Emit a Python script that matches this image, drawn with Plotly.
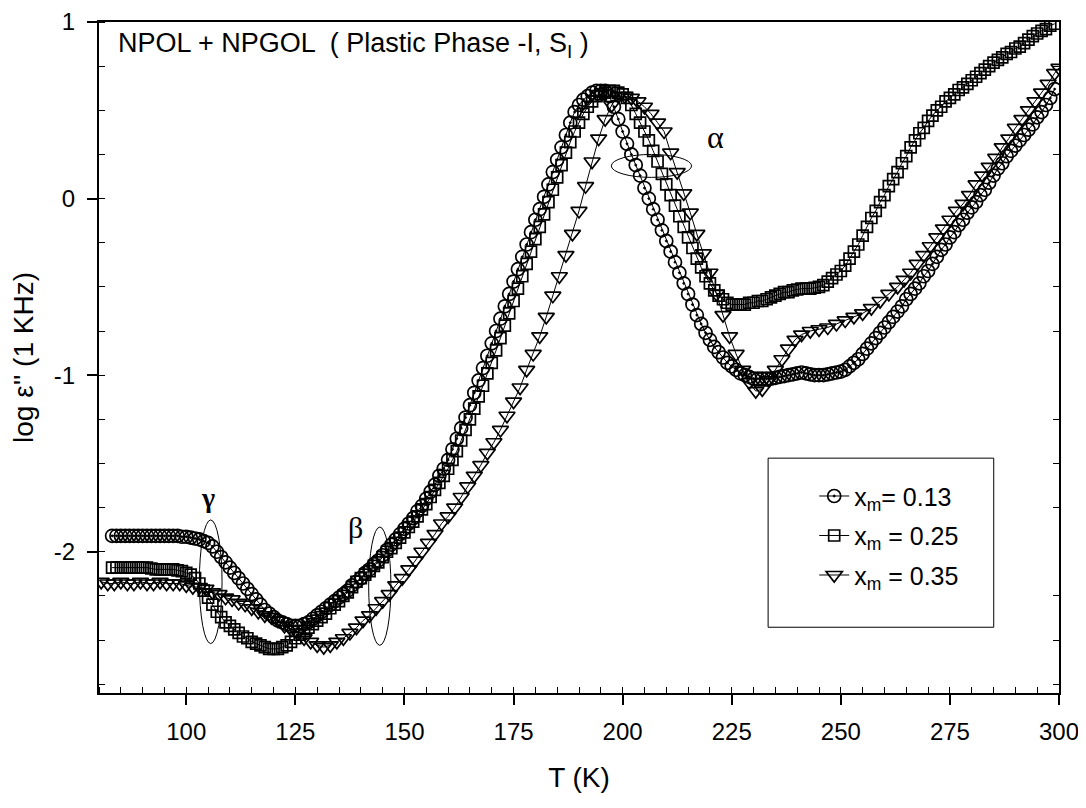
import plotly.graph_objects as go

# ---------------- data ----------------
T_013 = [83, 84, 85, 86, 87, 88, 89, 90, 91, 92, 93, 94, 95, 96, 97, 98, 99, 100, 101, 102, 103,
         104, 105, 106, 107, 108, 109, 110, 111, 112, 113, 114, 115, 116, 117, 118, 119, 120,
         121, 122, 123, 124, 125, 126, 127, 128, 129, 130, 131, 132, 133, 134, 135, 136, 137,
         138, 139, 140, 141, 142, 143, 144, 145, 146, 147, 148, 149, 150, 151, 152, 153, 154,
         155, 156, 157, 158, 159, 160, 161, 162, 163, 164, 165, 166, 167, 168, 169, 170, 171,
         172, 173, 174, 175, 176, 177, 178, 179, 180, 181, 182, 183, 184, 185, 186, 187, 188,
         189, 190, 191, 192, 193, 194, 195, 196, 197, 198, 199, 200, 201, 202, 203, 204, 205,
         206, 207, 208, 209, 210, 211, 212, 213, 214, 215, 216, 217, 218, 219, 220, 221, 222,
         223, 224, 225, 226, 227, 228, 229, 230,
         231, 232, 233, 234, 235, 236, 237, 238, 239, 240, 241, 242, 243, 244, 245, 246, 247, 248, 249, 250,
         251, 252, 253, 254, 255, 256, 257, 258, 259, 260, 261, 262, 263, 264, 265, 266, 267,
         268, 269, 270, 271, 272, 273, 274, 275, 276, 277, 278, 279, 280, 281, 282, 283, 284,
         285, 286, 287, 288, 289, 290, 291, 292, 293, 294, 295, 296, 297, 298, 299]
Y_013 = [-1.91, -1.91, -1.91, -1.91, -1.91, -1.91, -1.91, -1.91, -1.91, -1.91, -1.91, -1.91, -1.91, -1.91, -1.91,
         -1.91, -1.915, -1.915, -1.92, -1.925, -1.93,
         -1.94, -1.95, -1.97, -2.00, -2.03, -2.06, -2.09, -2.12, -2.15, -2.18, -2.21, -2.24, -2.27, -2.30, -2.33, -2.35, -2.37,
         -2.39, -2.40, -2.41, -2.42, -2.42, -2.42, -2.41, -2.40, -2.38, -2.36, -2.34, -2.32, -2.30, -2.28, -2.26, -2.24, -2.22,
         -2.19, -2.17, -2.15, -2.12, -2.10, -2.07, -2.05, -2.02, -1.99, -1.96, -1.93, -1.90, -1.87, -1.84, -1.81, -1.77, -1.74,
         -1.70, -1.66, -1.62, -1.57, -1.53, -1.48, -1.42, -1.36, -1.30, -1.24, -1.17, -1.10, -1.03, -0.96, -0.89, -0.82, -0.75,
         -0.68, -0.61, -0.54, -0.47, -0.40, -0.33, -0.26, -0.19, -0.12, -0.06, 0.01, 0.08, 0.15, 0.22, 0.29, 0.36, 0.43,
         0.49, 0.53, 0.56, 0.58, 0.60, 0.61, 0.61, 0.61, 0.58, 0.52, 0.45, 0.38, 0.31, 0.25, 0.19, 0.13, 0.06,
         0.00, -0.06, -0.12, -0.18, -0.24, -0.30, -0.36, -0.42, -0.48, -0.54, -0.60, -0.66, -0.71, -0.76, -0.80, -0.84, -0.87,
         -0.90, -0.93, -0.95, -0.97, -0.99, -1.00, -1.01, -1.02,
         -1.02, -1.02, -1.02, -1.02, -1.015, -1.01, -1.005, -1.00, -0.995, -0.99, -0.985, -0.99, -0.995, -1.00, -1.00, -1.00,
         -0.995, -0.99, -0.985, -0.98,
         -0.97, -0.95, -0.93, -0.91, -0.88, -0.85, -0.82, -0.79, -0.76, -0.73, -0.70, -0.67, -0.64, -0.61, -0.57, -0.54, -0.51,
         -0.48, -0.44, -0.41, -0.37, -0.33, -0.29, -0.26, -0.22, -0.19, -0.15, -0.12, -0.08, -0.05, -0.02, 0.02, 0.05, 0.09,
         0.13, 0.17, 0.20, 0.24, 0.27, 0.30, 0.33, 0.36, 0.39, 0.42, 0.46, 0.49, 0.53, 0.57, 0.62]

T_025 = [83, 84, 85, 86, 87, 88, 89, 90, 91, 92, 93, 94, 95, 96, 97, 98, 99, 100, 101,
         102, 103, 104, 105, 106, 107, 108, 109, 110, 111, 112, 113, 114, 115, 116, 117, 118,
         119, 120, 121, 122, 123, 124, 125, 126, 127, 128, 129, 130, 131, 132, 133, 134, 135,
         136, 137, 138, 139, 140, 141, 142, 143, 144, 145, 146, 147, 148, 149, 150, 151, 152,
         153, 154, 155, 156, 157, 158, 159, 160, 161, 162, 163, 164, 165, 166, 167, 168, 169,
         170, 171, 172, 173, 174, 175, 176, 177, 178, 179, 180, 181, 182, 183, 184, 185, 186,
         187, 188, 189, 190, 191, 192, 193, 194, 195, 196, 197, 198, 199, 200, 201, 202, 203,
         204, 205, 206, 207, 208, 209, 210, 211, 212, 213, 214, 215, 216, 217, 218, 219, 220,
         221, 222, 223, 224, 225,
         226, 227, 228, 229, 230, 231, 232, 233, 234, 235, 236, 237, 238, 239, 240, 241, 242,
         243, 244, 245, 246, 247,
         248, 249, 250, 251, 252, 253, 254, 255, 256, 257, 258, 259, 260, 261, 262, 263, 264,
         265, 266, 267, 268, 269, 270, 271, 272, 273, 274, 275, 276, 277, 278, 279, 280, 281,
         282, 283, 284, 285, 286, 287, 288, 289, 290, 291, 292, 293, 294, 295, 296, 297, 298, 299]
Y_025 = [-2.09, -2.09, -2.09, -2.09, -2.09, -2.09, -2.09, -2.09, -2.09, -2.095, -2.10, -2.10, -2.10, -2.10, -2.10,
         -2.105, -2.11, -2.12, -2.13,
         -2.15, -2.18, -2.22, -2.26, -2.30, -2.34, -2.37, -2.40, -2.42, -2.44, -2.46, -2.48, -2.49, -2.51, -2.52, -2.53, -2.54,
         -2.55, -2.55, -2.55, -2.54, -2.53, -2.51, -2.49, -2.47, -2.45, -2.43, -2.41, -2.39, -2.37, -2.35, -2.32, -2.30, -2.28,
         -2.25, -2.23, -2.20, -2.17, -2.15, -2.13, -2.11, -2.08, -2.06, -2.03, -2.00, -1.98, -1.95, -1.92, -1.89, -1.86, -1.83,
         -1.80, -1.76, -1.73, -1.69, -1.65, -1.61, -1.57, -1.53, -1.48, -1.43, -1.37, -1.31, -1.25, -1.19, -1.12, -1.06, -0.99,
         -0.93, -0.86, -0.79, -0.72, -0.65, -0.58, -0.51, -0.44, -0.37, -0.30, -0.23, -0.16, -0.09, -0.02, 0.05, 0.12, 0.19,
         0.26, 0.32, 0.38, 0.43, 0.48, 0.52, 0.55, 0.58, 0.59, 0.60, 0.61, 0.61, 0.60, 0.59, 0.57, 0.53, 0.48,
         0.43, 0.38, 0.33, 0.27, 0.21, 0.14, 0.08, 0.02, -0.04, -0.10, -0.16, -0.22, -0.28, -0.34, -0.39, -0.44, -0.48,
         -0.52, -0.55, -0.57, -0.59, -0.60,
         -0.60, -0.60, -0.60, -0.59, -0.59, -0.58, -0.58, -0.57, -0.56, -0.55, -0.54, -0.53, -0.53, -0.52, -0.515, -0.51, -0.51,
         -0.51, -0.505, -0.50, -0.49, -0.47,
         -0.45, -0.43, -0.41, -0.38, -0.34, -0.30, -0.26, -0.21, -0.16, -0.11, -0.07, -0.02, 0.02, 0.07, 0.11, 0.15, 0.20,
         0.24, 0.29, 0.33, 0.37, 0.40, 0.44, 0.47, 0.50, 0.52, 0.55, 0.57, 0.59, 0.615, 0.63, 0.65, 0.67, 0.69,
         0.71, 0.73, 0.75, 0.77, 0.785, 0.80, 0.82, 0.83, 0.85, 0.86, 0.88, 0.90, 0.92, 0.935, 0.95, 0.96, 0.98, 0.99]

T_035 = [80.5, 82, 83.5, 85, 86.5, 88, 89.5, 91, 92.5, 94, 95.5, 97, 98.5, 100, 101.5, 103,
         104.5, 106, 107.5, 109, 110.5, 112, 113.5, 115, 116.5, 118, 119.5, 121, 122.5, 124,
         125.5, 127, 128.5, 130, 131.5, 133, 134.5, 136, 137.5, 139, 140.5, 142, 143.5, 145,
         146.5, 148, 149.5, 151, 152.5, 154, 155.5, 157, 158.5, 160, 161.5, 163, 164.5, 166,
         167.5, 169, 170.5, 172, 173.5, 175, 176.5,
         178, 179.5, 181, 182.5, 184, 185.5, 187, 188.5, 190, 191.5, 193, 194.5, 196, 197.5,
         199, 200.5, 202, 203.5, 205, 206.5, 208, 209.5, 211, 212.5, 214, 215.5, 217, 218.5,
         220, 221.5, 223, 224.5, 226, 227.5, 229, 230.5, 232, 233.5, 235, 236.5, 238, 239.5,
         241, 243, 245, 247, 249, 251, 253, 255, 257, 259, 261, 263, 264.5, 266, 267.5, 269,
         270.5, 272, 273.5, 275, 276.5, 278, 279.5, 281, 282.5, 284, 285.5, 287, 288.5, 290,
         291.5, 293, 294.5, 296, 297.5, 299, 300]
Y_035 = [-2.17, -2.18, -2.18, -2.17, -2.18, -2.18, -2.17, -2.18, -2.18, -2.17, -2.18, -2.18, -2.18, -2.19, -2.20, -2.20,
         -2.21, -2.23, -2.24, -2.26, -2.27, -2.29, -2.30, -2.32, -2.34, -2.36, -2.37, -2.39, -2.42, -2.44,
         -2.46, -2.49, -2.51, -2.53, -2.54, -2.53, -2.51, -2.49, -2.46, -2.43, -2.39, -2.36, -2.32, -2.28,
         -2.24, -2.19, -2.15, -2.10, -2.05, -2.00, -1.95, -1.90, -1.84, -1.80, -1.75, -1.69, -1.63, -1.57,
         -1.51, -1.44, -1.38, -1.31, -1.23, -1.15, -1.07,
         -0.97, -0.88, -0.78, -0.67, -0.55, -0.44, -0.32, -0.20, -0.07, 0.07, 0.21, 0.34, 0.45, 0.53,
         0.58, 0.58, 0.57, 0.55, 0.52, 0.48, 0.43, 0.38, 0.26, 0.15, 0.03, -0.08, -0.20, -0.31,
         -0.42, -0.54, -0.66, -0.78, -0.88, -0.97, -1.04, -1.09, -1.08, -1.03, -0.97, -0.91, -0.85, -0.80,
         -0.77, -0.75, -0.74, -0.73, -0.71, -0.69, -0.67, -0.65, -0.62, -0.58, -0.54, -0.50, -0.46, -0.42, -0.37, -0.32,
         -0.27, -0.22, -0.17, -0.12, -0.07, -0.03, 0.02, 0.08, 0.13, 0.18, 0.23, 0.29, 0.34, 0.40,
         0.45, 0.50, 0.55, 0.60, 0.65, 0.71, 0.74]

SERIES_NAMES = ["x<sub>m</sub>= 0.13", "x<sub>m</sub> = 0.25", "x<sub>m</sub> = 0.35"]
X_TICKS = [100, 125, 150, 175, 200, 225, 250, 275, 300]
Y_TICKS = [-2, -1, 0, 1]
Y_TICK_TEXT = ["-2", "-1", "0", "1"]

FONT = "Liberation Sans, Arial, sans-serif"
SERIF = "Liberation Serif, Times New Roman, serif"

fig = go.Figure()

styles = [
    dict(symbol="circle-open-dot", size=13),
    dict(symbol="square-open", size=11),
    dict(symbol="triangle-down-open", size=14),
]
for i, (tx, yy) in enumerate([(T_013, Y_013), (T_025, Y_025), (T_035, Y_035)]):
    fig.add_trace(go.Scatter(
        x=tx, y=yy, mode="lines+markers", name=SERIES_NAMES[i],
        legendgroup=f"g{i}",
        line=dict(color="black", width=1),
        marker=dict(symbol=styles[i]["symbol"], size=styles[i]["size"], color="black",
                    line=dict(color="black", width=1.7)),
    ))

# helper trace so the right-hand axis (inside minor ticks) is drawn
fig.add_trace(go.Scatter(x=[80], y=[-2.8], yaxis="y2", mode="markers",
                         marker=dict(opacity=0), showlegend=False, hoverinfo="skip"))

# the page adds an 8 px body margin, so the figure is 8 px smaller each way
fig.update_layout(
    width=1078, height=800,
    margin=dict(l=91, r=27, t=14, b=115),
    paper_bgcolor="white", plot_bgcolor="white",
    font=dict(family=FONT, color="black"),
    showlegend=True,
    legend=dict(x=0.745, y=0.3275, xanchor="left", yanchor="top",
                bgcolor="rgba(0,0,0,0)", borderwidth=0,
                font=dict(size=25, family=FONT), tracegroupgap=4),
    xaxis=dict(range=[80, 300], tickmode="array", tickvals=X_TICKS,
               ticks="outside", ticklen=10, tickwidth=1.5, tickcolor="black",
               showline=True, linecolor="black", linewidth=2, mirror=True,
               showgrid=False, zeroline=False, automargin=False,
               tickfont=dict(size=24), ticklabelstandoff=6,
               minor=dict(tickmode="linear", tick0=0, dtick=5, ticks="inside",
                          ticklen=6, tickcolor="black", tickwidth=1),
               title=dict(text="T (K)", font=dict(size=28), standoff=24)),
    yaxis=dict(range=[-2.8, 1], tickmode="array", tickvals=Y_TICKS, ticktext=Y_TICK_TEXT,
               ticks="outside", ticklen=10, tickwidth=1.5, tickcolor="black",
               showline=True, linecolor="black", linewidth=2, mirror=True,
               showgrid=False, zeroline=False, automargin=False,
               tickfont=dict(size=24), ticklabelstandoff=7,
               minor=dict(tickmode="linear", tick0=0, dtick=0.25, ticks="inside",
                          ticklen=6, tickcolor="black", tickwidth=1),
               title=dict(text="log ε'' (1 KHz)", font=dict(size=28), standoff=12)),
    yaxis2=dict(range=[-2.8, 1], overlaying="y", side="right", showline=False,
                showticklabels=False, ticks="", showgrid=False, zeroline=False,
                automargin=False,
                tickmode="linear", tick0=0, dtick=1,
                minor=dict(tickmode="linear", tick0=0, dtick=0.25, ticks="inside",
                           ticklen=6, tickcolor="black", tickwidth=1)),
)

# legend frame
fig.add_shape(type="rect", xref="paper", yref="paper",
              x0=0.697, x1=0.932, y0=0.098, y1=0.350,
              line=dict(color="black", width=1), fillcolor="rgba(0,0,0,0)")

# relaxation ellipses
for (x0, x1, y0, y1) in [(103.0, 108.2, -2.52, -1.82),
                         (141.8, 146.9, -2.53, -1.86),
                         (197.4, 215.8, 0.12, 0.25)]:
    fig.add_shape(type="circle", xref="x", yref="y", x0=x0, x1=x1, y0=y0, y1=y1,
                  line=dict(color="black", width=1))

fig.add_annotation(xref="paper", yref="paper", x=0.018, y=0.966, xanchor="left", yanchor="middle",
                   text="NPOL + NPGOL  ( Plastic Phase -I, S<sub>I</sub> )", showarrow=False,
                   font=dict(size=27, family=FONT))
fig.add_annotation(x=105.0, y=-1.69, text="<b>γ</b>", showarrow=False,
                   font=dict(size=28, family=SERIF))
fig.add_annotation(x=138.7, y=-1.86, text="β", showarrow=False,
                   font=dict(size=30, family=SERIF))
fig.add_annotation(x=221.3, y=0.35, text="α", showarrow=False,
                   font=dict(size=32, family=SERIF))

fig.write_html("out.html")
